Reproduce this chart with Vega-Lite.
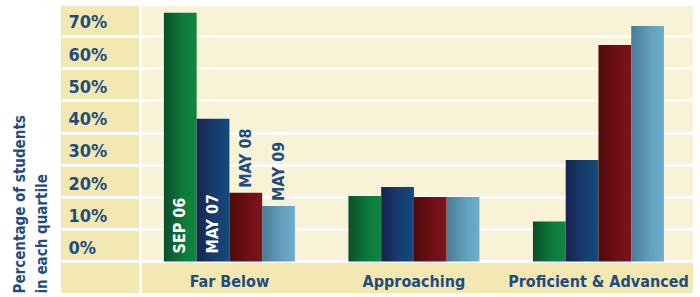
{
  "$schema": "https://vega.github.io/schema/vega-lite/v6.json",
  "background": "white",
  "padding": {"left": 12, "top": 6, "right": 0, "bottom": 0},
  "config": {
    "font": "DejaVu Sans Condensed",
    "view": {"stroke": null},
    "axis": {"labelFont": "DejaVu Sans Condensed", "titleFont": "DejaVu Sans Condensed"}
  },
  "datasets": {
    "bars": [
      {"group": "Far Below", "series": "SEP 06", "value": 77.2},
      {"group": "Far Below", "series": "MAY 07", "value": 44.3},
      {"group": "Far Below", "series": "MAY 08", "value": 21.3},
      {"group": "Far Below", "series": "MAY 09", "value": 17.2},
      {"group": "Approaching", "series": "SEP 06", "value": 20.3},
      {"group": "Approaching", "series": "MAY 07", "value": 23.1},
      {"group": "Approaching", "series": "MAY 08", "value": 20.0},
      {"group": "Approaching", "series": "MAY 09", "value": 20.0},
      {"group": "Proficient & Advanced", "series": "SEP 06", "value": 12.4},
      {"group": "Proficient & Advanced", "series": "MAY 07", "value": 31.5},
      {"group": "Proficient & Advanced", "series": "MAY 08", "value": 67.2},
      {"group": "Proficient & Advanced", "series": "MAY 09", "value": 73.1}
    ],
    "band": [{"from": -9.8, "to": -0.5}]
  },
  "hconcat": [
    {
      "width": 78,
      "height": 287,
      "view": {"fill": "#F3E8B2", "stroke": null},
      "data": {"name": "bars"},
      "mark": {"type": "point", "opacity": 0},
      "encoding": {
        "y": {
          "field": "value",
          "type": "quantitative",
          "scale": {"domain": [-9.8, 79.3], "nice": false, "zero": false},
          "axis": {
            "values": [0, 10, 20, 30, 40, 50, 60, 70],
            "grid": true,
            "gridColor": "white",
            "gridWidth": 3,
            "gridOpacity": 1,
            "domain": false,
            "ticks": false,
            "labelExpr": "datum.value + '%'",
            "labelAlign": "left",
            "labelBaseline": "alphabetic",
            "labelPadding": -7,
            "labelOffset": -8,
            "labelFontSize": 18,
            "labelFontWeight": "bold",
            "labelColor": "#1F4C7E",
            "title": ["Percentage of students", "in each quartile"],
            "titleFontSize": 15,
            "titleFontWeight": "bold",
            "titleColor": "#1F4C7E",
            "titleAnchor": "start",
            "titleLineHeight": 22,
            "titlePadding": 12
          }
        }
      }
    },
    {
      "width": 551,
      "height": 287,
      "view": {"fill": "#F8F2D7", "stroke": null},
      "data": {"name": "bars"},
      "encoding": {
        "x": {
          "field": "group",
          "type": "nominal",
          "sort": ["Far Below", "Approaching", "Proficient & Advanced"],
          "scale": {"paddingInner": 0.29, "paddingOuter": 0.138, "align": 0.43},
          "axis": {
            "title": null,
            "domain": false,
            "ticks": false,
            "zindex": 2,
            "labelAngle": 0,
            "labelLimit": 0,
            "labelBaseline": "alphabetic",
            "labelPadding": -6.5,
            "labelFontSize": 16,
            "labelFontWeight": "bold",
            "labelColor": "#1F4C7E"
          }
        },
        "xOffset": {
          "field": "series",
          "type": "nominal",
          "scale": {"domain": ["SEP 06", "MAY 07", "MAY 08", "MAY 09"], "paddingInner": 0, "paddingOuter": 0}
        }
      },
      "layer": [
        {
          "data": {"name": "band"},
          "mark": {"type": "rect", "color": "#F3E8B2"},
          "encoding": {
            "x": null,
            "xOffset": null,
            "y": {
              "field": "from",
              "type": "quantitative",
              "scale": {"domain": [-9.8, 79.3], "nice": false, "zero": false},
              "axis": {
                "values": [0, 10, 20, 30, 40, 50, 60, 70],
                "grid": true,
                "gridColor": "white",
                "gridWidth": 3,
                "gridOpacity": 1,
                "domain": false,
                "ticks": false,
                "labels": false,
                "title": null
              }
            },
            "y2": {"field": "to"}
          }
        },
        {
          "transform": [{"filter": "datum.series == 'SEP 06'"}],
          "mark": {"type": "bar", "color": {"gradient": "linear", "x1": 0, "x2": 1, "y1": 0, "y2": 0, "stops": [{"offset": 0, "color": "#0B4F2A"}, {"offset": 0.6, "color": "#0E7A3C"}, {"offset": 1, "color": "#108740"}]}},
          "encoding": {"y": {"field": "value", "type": "quantitative"}}
        },
        {
          "transform": [{"filter": "datum.series == 'MAY 07'"}],
          "mark": {"type": "bar", "color": {"gradient": "linear", "x1": 0, "x2": 1, "y1": 0, "y2": 0, "stops": [{"offset": 0, "color": "#18234F"}, {"offset": 0.6, "color": "#163F70"}, {"offset": 1, "color": "#134A7F"}]}},
          "encoding": {"y": {"field": "value", "type": "quantitative"}}
        },
        {
          "transform": [{"filter": "datum.series == 'MAY 08'"}],
          "mark": {"type": "bar", "color": {"gradient": "linear", "x1": 0, "x2": 1, "y1": 0, "y2": 0, "stops": [{"offset": 0, "color": "#4E0A0B"}, {"offset": 0.6, "color": "#701015"}, {"offset": 1, "color": "#7E1419"}]}},
          "encoding": {"y": {"field": "value", "type": "quantitative"}}
        },
        {
          "transform": [{"filter": "datum.series == 'MAY 09'"}],
          "mark": {"type": "bar", "color": {"gradient": "linear", "x1": 0, "x2": 1, "y1": 0, "y2": 0, "stops": [{"offset": 0, "color": "#4A7C94"}, {"offset": 0.6, "color": "#62A0BE"}, {"offset": 1, "color": "#6CAECB"}]}},
          "encoding": {"y": {"field": "value", "type": "quantitative"}}
        },
        {
          "transform": [{"filter": "datum.group == 'Far Below' && (datum.series == 'SEP 06' || datum.series == 'MAY 07')"}],
          "mark": {"type": "text", "angle": 270, "align": "left", "baseline": "middle", "dx": 8, "fontSize": 16, "fontWeight": "bold", "color": "white"},
          "encoding": {"y": {"datum": 0, "type": "quantitative"}, "text": {"field": "series"}}
        },
        {
          "transform": [{"filter": "datum.group == 'Far Below' && (datum.series == 'MAY 08' || datum.series == 'MAY 09')"}],
          "mark": {"type": "text", "angle": 270, "align": "left", "baseline": "middle", "dx": 5, "fontSize": 16, "fontWeight": "bold", "color": "#1F4C7E"},
          "encoding": {"y": {"field": "value", "type": "quantitative"}, "text": {"field": "series"}}
        }
      ]
    }
  ],
  "spacing": 3
}
